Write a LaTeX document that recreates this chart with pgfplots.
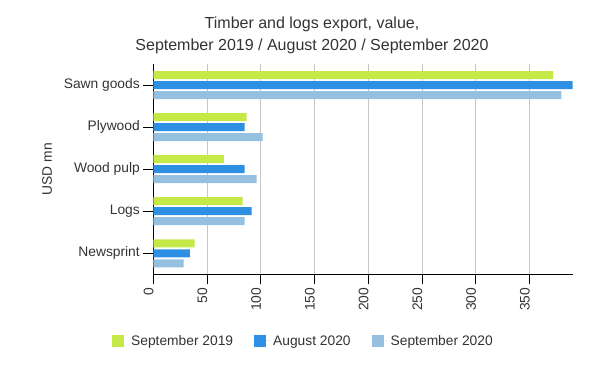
\documentclass[border=0pt]{standalone}
\usepackage{pgfplots}
\pgfplotsset{compat=1.18}
\usepackage{fontspec}
\setmainfont{Liberation Sans}
\definecolor{cgreen}{RGB}{197,234,72}
\definecolor{cblue}{RGB}{46,144,226}
\definecolor{clight}{RGB}{150,192,224}
\definecolor{ctext}{RGB}{51,51,51}
\begin{document}
\begin{tikzpicture}[x=1pt,y=1pt]
\path[use as bounding box] (0,0) rectangle (607,368);
\node[align=center, text=ctext, font=\fontsize{16}{22}\selectfont] at (312,333) {Timber and logs export, value,\\September 2019 / August 2020 / September 2020};
\begin{axis}[
  at={(153.3pt,93.7pt)}, anchor=south west,
  scale only axis, width=419.4pt, height=210.3pt,
  xbar, bar width=8pt,
  xmin=0, xmax=390, ymin=-0.5, ymax=4.5, y dir=reverse,
  ytick={0,1,2,3,4},
  yticklabels={Sawn goods,Plywood,Wood pulp,Logs,Newsprint},
  xtick={0,50,100,150,200,250,300,350},
  axis lines*=left,
  axis line style={-, black, line width=1pt},
  xmajorgrids, grid style={gray!45, line width=0.9pt},
  tick align=outside, major tick length=10pt,
  tick style={black, line width=0.9pt},
  /pgf/number format/assume math mode=true,
  ticklabel style={font=\fontsize{13.8}{16}\selectfont, text=ctext},
  xticklabel style={rotate=90, anchor=base east},
  ylabel={USD mn},
  ylabel style={font=\fontsize{13.8}{16}\selectfont, text=ctext, yshift=5pt},
  legend columns=3,
  legend style={draw=none, at={(0.358,-0.317)}, anchor=center,
    font=\fontsize{13.8}{16}\selectfont, text=ctext,
    /tikz/every even column/.append style={column sep=19pt}},
  legend image code/.code={\fill[#1] (0pt,-6pt) rectangle (12pt,6pt); \path (0pt,0pt) -- (17pt,0pt);},
]
\addplot[draw=none, fill=cgreen, bar shift=10pt] coordinates {(371.7,0) (86.8,1) (65.7,2) (83.1,3) (38.5,4)};
\addplot[draw=none, fill=cblue, bar shift=0pt] coordinates {(390,0) (84.9,1) (84.9,2) (91.4,3) (34.1,4)};
\addplot[draw=none, fill=clight, bar shift=-10pt] coordinates {(379.5,0) (101.7,1) (96.1,2) (84.9,3) (28.3,4)};
\legend{September 2019, August 2020, September 2020}
\end{axis}
\end{tikzpicture}
\end{document}
